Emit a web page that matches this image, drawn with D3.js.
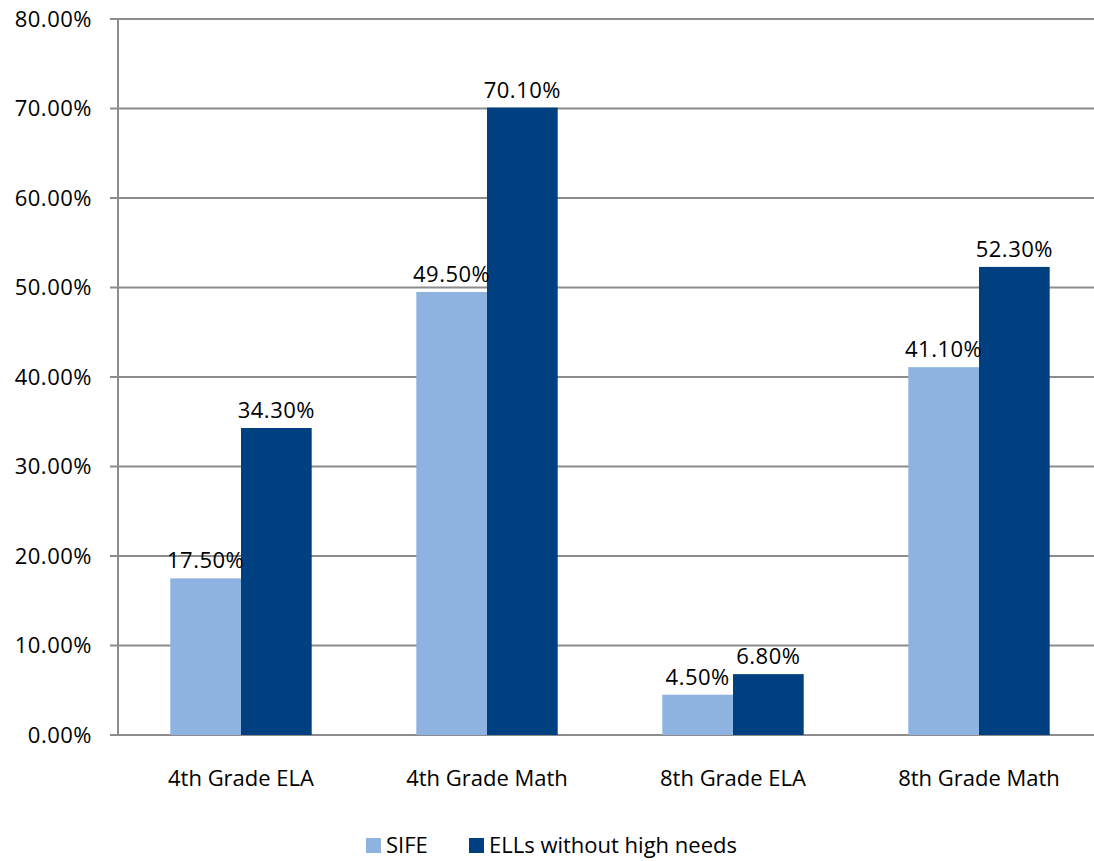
<!DOCTYPE html>
<html>
<head>
<meta charset="utf-8">
<script src="https://cdn.jsdelivr.net/npm/d3@7"></script>
<style>
  body { margin: 0; background: #fff; }
  text { font-family: "Open Sans", sans-serif; fill: #000; }
</style>
</head>
<body>
<script>
// chart data
const categories = ["4th Grade ELA", "4th Grade Math", "8th Grade ELA", "8th Grade Math"];
const seriesNames = ["SIFE", "ELLs without high needs"];
const sifeValues = [17.5, 49.5, 4.5, 41.1];
const ellValues = [34.3, 70.1, 6.8, 52.3];
const yTicks = [0, 10, 20, 30, 40, 50, 60, 70, 80];
const colors = ["#8EB3E1", "#003F80"];

const width = 1094, height = 861;
const margin = { left: 118, top: 19, bottom: 126 };

const svg = d3.select("body")
  .append("svg")
  .attr("width", width)
  .attr("height", height);

const x = d3.scaleBand()
  .domain(categories)
  .range([margin.left, margin.left + 4 * 246]);

const xInner = d3.scaleBand()
  .domain(seriesNames)
  .range([0, x.bandwidth()])
  .paddingInner(0)
  .paddingOuter(0.74);

const y = d3.scaleLinear()
  .domain([0, 80])
  .range([height - margin.bottom, margin.top]);

// gridlines
svg.append("g")
  .selectAll("line")
  .data(yTicks)
  .enter()
  .append("line")
  .attr("x1", margin.left - 8)
  .attr("x2", width)
  .attr("y1", (d) => y(d))
  .attr("y2", (d) => y(d))
  .attr("stroke", "#8c8c8c")
  .attr("stroke-width", 2);

// y labels
svg.append("g")
  .selectAll("text")
  .data(yTicks)
  .enter()
  .append("text")
  .attr("x", margin.left - 26)
  .attr("y", (d) => y(d))
  .attr("dy", "0.36em")
  .attr("text-anchor", "end")
  .style("font-size", "22px")
  .style("letter-spacing", "0.5px")
  .text((d) => d.toFixed(2) + "%");

// bars
const rows = categories.map((c, i) => ({ cat: c, vals: [sifeValues[i], ellValues[i]] }));

const groups = svg.append("g")
  .selectAll("g")
  .data(rows)
  .enter()
  .append("g")
  .attr("transform", (d) => `translate(${x(d.cat)},0)`);

groups.selectAll("rect")
  .data((d) => d.vals.map((v, j) => ({ name: seriesNames[j], v: v, j: j })))
  .enter()
  .append("rect")
  .attr("x", (d) => xInner(d.name))
  .attr("y", (d) => y(d.v))
  .attr("width", xInner.bandwidth())
  .attr("height", (d) => y(0) - y(d.v))
  .attr("fill", (d) => colors[d.j]);

groups.selectAll("text")
  .data((d) => d.vals.map((v, j) => ({ name: seriesNames[j], v: v })))
  .enter()
  .append("text")
  .attr("x", (d) => xInner(d.name) + xInner.bandwidth() / 2)
  .attr("y", (d) => y(d.v) - 10)
  .attr("text-anchor", "middle")
  .style("font-size", "22px")
  .style("letter-spacing", "0.5px")
  .text((d) => d.v.toFixed(2) + "%");

// y axis line
svg.append("line")
  .attr("x1", margin.left)
  .attr("x2", margin.left)
  .attr("y1", y(80))
  .attr("y2", y(0))
  .attr("stroke", "#8c8c8c")
  .attr("stroke-width", 2);

// category labels
svg.append("g")
  .selectAll("text")
  .data(categories)
  .enter()
  .append("text")
  .attr("x", (d) => x(d) + x.bandwidth() / 2)
  .attr("y", y(0) + 51)
  .attr("text-anchor", "middle")
  .style("font-size", "22px")
  .text((d) => d);

// legend
const legend = svg.append("g");
const legendX = [366, 469];
seriesNames.forEach((name, i) => {
  legend.append("rect")
    .attr("x", legendX[i])
    .attr("y", 838)
    .attr("width", 15)
    .attr("height", 15)
    .attr("fill", colors[i]);
  legend.append("text")
    .attr("x", legendX[i] + 20)
    .attr("y", 845)
    .attr("dy", "0.36em")
    .style("font-size", "22px")
    .text(name);
});
</script>
</body>
</html>
